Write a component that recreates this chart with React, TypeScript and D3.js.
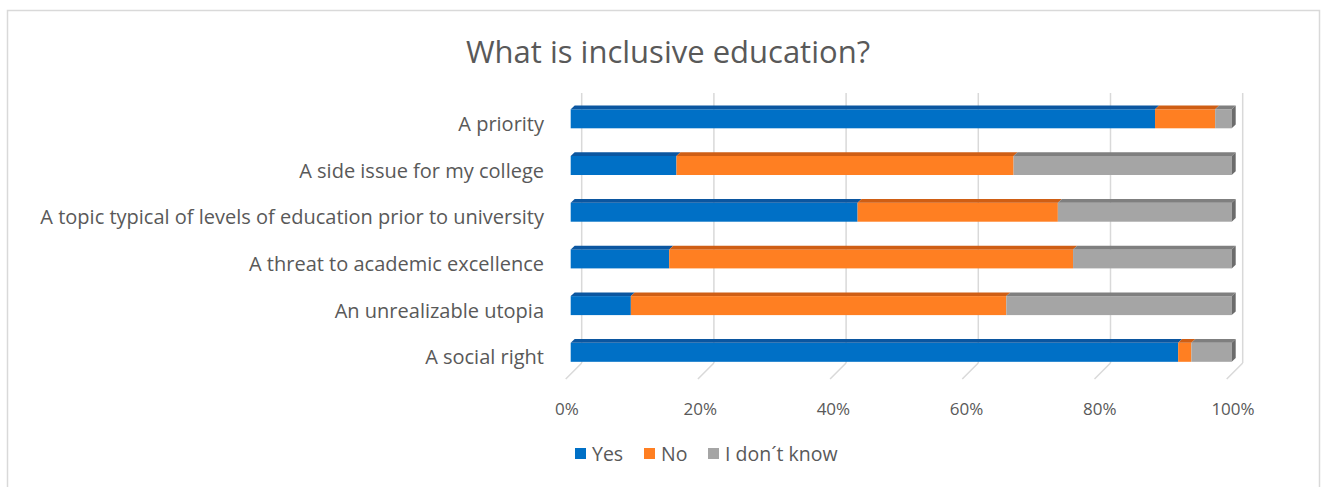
import React from "react";
import * as d3 from "d3";

const categories = [
  "A priority",
  "A side issue for my college",
  "A topic typical of levels of education prior to university",
  "A threat to academic excellence",
  "An unrealizable utopia",
  "A social right",
];
const seriesNames = ["Yes", "No", "I don´t know"];
const yesValues = [88.4, 16.0, 43.4, 14.9, 9.1, 91.9];
const noValues = [9.1, 51.0, 30.3, 61.1, 56.8, 2.0];
const dontKnowValues = [2.5, 33.0, 26.3, 24.0, 34.1, 6.1];
const tickValues = [0, 20, 40, 60, 80, 100];
const title = "What is inclusive education?";

const frontColors = ["#0070C6", "#FF7F22", "#A5A5A5"];
const topColors = ["#0B56A0", "#CF5E14", "#7F7F7F"];
const sideColor = "#6B6B6B";
const textColor = "#595959";
const gridColor = "#D9D9D9";
const font = "'Open Sans', sans-serif";

export default function App() {
  const W = 1328;
  const H = 487;
  const x = d3.scaleLinear().domain([0, 100]).range([570.7, 1231.7]);
  const xLabel = d3.scaleLinear().domain([0, 100]).range([567, 1233]);
  const y = d3
    .scaleBand<string>()
    .domain(categories)
    .range([95.45, 375.65])
    .paddingInner(0.593)
    .paddingOuter(0.2965);
  const backDx = 11;
  const wallTop = 93;
  const wallBottom = 363;
  const floorDy = 16;
  const dx = 4;
  const dy = 3.7;

  const rows = categories.map((c, i) => ({
    cat: c,
    vals: [yesValues[i], noValues[i], dontKnowValues[i]],
  }));
  const stack = d3
    .stack<any>()
    .keys(["0", "1", "2"])
    .value((d: any, k: string) => d.vals[+k]);
  const stacked = stack(rows);

  const bw = y.bandwidth();

  return (
    <svg
      width={W}
      height={H}
      style={{ position: "absolute", left: 0, top: 0, background: "#fff" }}
    >
      <rect x={7.5} y={10.5} width={1312} height={490} fill="#fff" stroke="#D9D9D9" strokeWidth={1.5} />
      <text
        x={668}
        y={63}
        textAnchor="middle"
        fontFamily={font}
        fontSize={31}
        fill={textColor}
      >
        {title}
      </text>
      {/* back wall gridlines and floor ticks */}
      {tickValues.map((t) => {
        const bx = x(t) + backDx;
        return (
          <g key={t}>
            <line x1={bx} x2={bx} y1={wallTop} y2={wallBottom} stroke={gridColor} strokeWidth={1.5} />
            <line x1={bx} x2={bx - floorDy} y1={wallBottom} y2={wallBottom + floorDy} stroke={gridColor} strokeWidth={1.5} />
            <text
              x={xLabel(t)}
              y={415}
              textAnchor="middle"
              fontFamily={font}
              fontSize={17}
              fill={textColor}
            >
              {t + "%"}
            </text>
          </g>
        );
      })}
      {/* bars */}
      {stacked.map((layer, si) => (
        <g key={si}>
          {layer.map((d, ci) => {
            const x0 = x(d[0]);
            const x1 = x(d[1]);
            const yt = y(categories[ci]) as number;
            const topPts = `${x0},${yt} ${x1},${yt} ${x1 + dx},${yt - dy} ${x0 + dx},${yt - dy}`;
            return (
              <g key={ci}>
                <rect x={x0} y={yt} width={Math.max(0, x1 - x0)} height={bw} fill={frontColors[si]} />
                <polygon points={topPts} fill={topColors[si]} />
                {si === 2 && (
                  <polygon
                    points={`${x1},${yt} ${x1 + dx},${yt - dy} ${x1 + dx},${yt + bw - dy} ${x1},${yt + bw}`}
                    fill={sideColor}
                  />
                )}
              </g>
            );
          })}
        </g>
      ))}
      {/* category labels */}
      {categories.map((c) => (
        <text
          key={c}
          x={544}
          y={(y(c) as number) + bw / 2 + 12}
          textAnchor="end"
          fontFamily={font}
          fontSize={20}
          fill={textColor}
        >
          {c}
        </text>
      ))}
      {/* legend */}
      {(() => {
        const items = [
          { name: seriesNames[0], sx: 575 },
          { name: seriesNames[1], sx: 644 },
          { name: seriesNames[2], sx: 708 },
        ];
        return items.map((it, i) => (
          <g key={it.name}>
            <rect x={it.sx} y={448} width={11} height={11} fill={frontColors[i]} />
            <text x={it.sx + 17} y={461} fontFamily={font} fontSize={19.5} fill={textColor}>
              {it.name}
            </text>
          </g>
        ));
      })()}
    </svg>
  );
}
